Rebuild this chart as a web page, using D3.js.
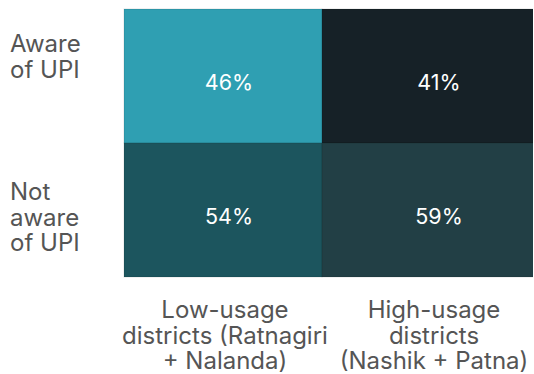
<!DOCTYPE html>
<html>
<head>
<meta charset="utf-8">
<script src="https://cdn.jsdelivr.net/npm/d3@7"></script>
<style>
  html, body { margin: 0; padding: 0; background: #ffffff; }
  svg { display: block; }
  text { font-family: Inter, "Noto Sans", sans-serif; }
</style>
</head>
<body>
<svg id="chart" width="533" height="374"></svg>
<script>
// UPI awareness by district group
const districtGroups = [
  ["Low-usage", "districts (Ratnagiri", "+ Nalanda)"],
  ["High-usage", "districts", "(Nashik + Patna)"]
];
const awarenessRows = [
  ["Aware", "of UPI"],
  ["Not", "aware", "of UPI"]
];
// share of respondents, % — one row per awareness level, one column per district group
const awareShare    = [46, 41];
const notAwareShare = [54, 59];
const cellColors = [
  ["#2f9fb2", "#162127"],
  ["#1c555e", "#223f45"]
];

const svg = d3.select("#chart");
const rowValues = [awareShare, notAwareShare];

const cols = d3.range(districtGroups.length);
const rows = d3.range(awarenessRows.length);

// column edges: the second column runs past the right edge of the view
const xEdge = d3.scaleLinear().domain([0, 1, 2]).range([124, 322, 556]);
const y = d3.scaleBand().domain(rows).range([9, 277]);

const cells = rows.flatMap(r => cols.map(c => ({ r, c, v: rowValues[r][c] })));

const g = svg.append("g");

g.selectAll("rect.cell")
  .data(cells)
  .join("rect")
  .attr("class", "cell")
  .attr("x", d => xEdge(d.c))
  .attr("y", d => y(d.r))
  .attr("width", d => xEdge(d.c + 1) - xEdge(d.c))
  .attr("height", y.bandwidth())
  .attr("fill", d => cellColors[d.r][d.c])
  .attr("stroke", "rgba(0,0,0,0.12)")
  .attr("stroke-width", 1);

g.selectAll("text.value")
  .data(cells)
  .join("text")
  .attr("class", "value")
  .attr("x", d => xEdge(d.c + 0.5) + (d.c === 0 ? 6 : 0))
  .attr("y", d => y(d.r) + y.bandwidth() / 2 + 14)
  .attr("text-anchor", "middle")
  .attr("fill", "#ffffff")
  .attr("font-size", 21.5)
  .text(d => d.v + "%");

// row labels on the left
const labelSize = 24;
const lineH = 25.5;
const rowShift = [-24, -10];
rows.forEach(r => {
  const t = svg.append("text")
    .attr("x", 10)
    .attr("y", y(r) + y.bandwidth() / 2 + rowShift[r])
    .attr("fill", "#555555")
    .attr("font-size", labelSize);
  awarenessRows[r].forEach((line, i) => {
    t.append("tspan")
      .attr("x", 10)
      .attr("dy", i === 0 ? 0 : lineH)
      .text(line);
  });
});

// column labels underneath
const colShift = [2, -5];
cols.forEach(c => {
  const cx = xEdge(c + 0.5) + colShift[c];
  const t = svg.append("text")
    .attr("x", cx)
    .attr("y", y.range()[1] + 41)
    .attr("text-anchor", "middle")
    .attr("fill", "#555555")
    .attr("font-size", labelSize);
  districtGroups[c].forEach((line, i) => {
    t.append("tspan")
      .attr("x", cx)
      .attr("dy", i === 0 ? 0 : lineH)
      .text(line);
  });
});
</script>
</body>
</html>
